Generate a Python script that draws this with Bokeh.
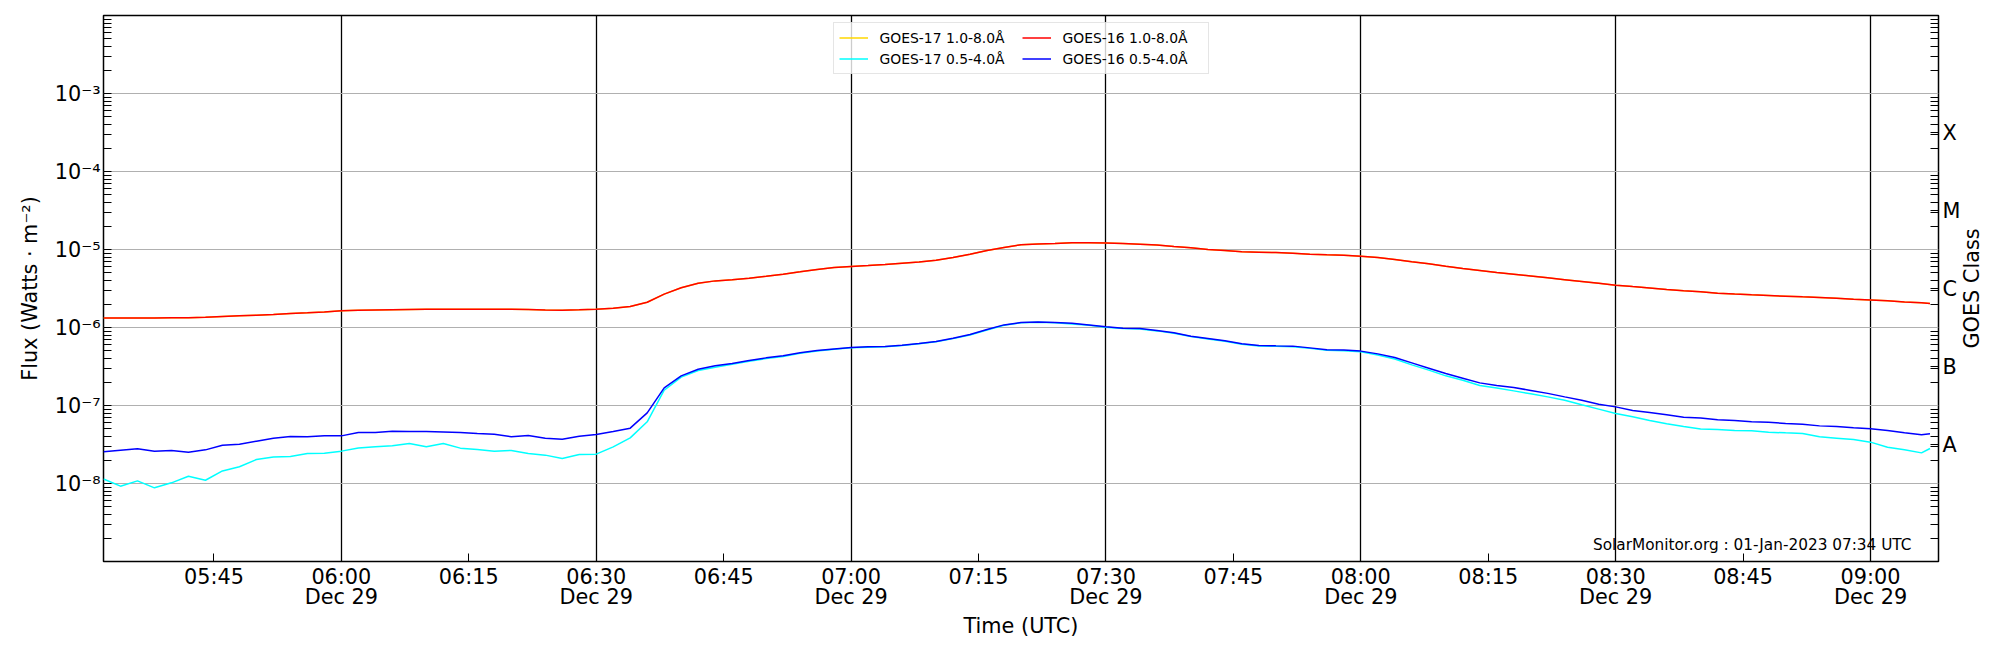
import math
import pandas as pd
from bokeh.plotting import figure
from bokeh.models import (FixedTicker, CustomJSTickFormatter, LogAxis, Legend,
                          LegendItem, Label, Range1d, ColumnDataSource)
from bokeh.embed import file_html
from bokeh.resources import INLINE

# ---------------- data ----------------
start_time = "2022-12-29 05:32"
end_time = "2022-12-29 09:08"
minutes = list(range(0, 216, 2)) + [215]   # sample times, minutes after 05:32 UTC

goes16_long = [
    1.32e-6, 1.32e-6, 1.32e-6, 1.32e-6, 1.33e-6, 1.33e-6, 1.35e-6, 1.38e-6, 1.41e-6, 1.44e-6,
    1.47e-6, 1.51e-6, 1.54e-6, 1.58e-6, 1.64e-6, 1.66e-6, 1.68e-6, 1.69e-6, 1.70e-6, 1.71e-6,
    1.72e-6, 1.72e-6, 1.72e-6, 1.71e-6, 1.71e-6, 1.70e-6, 1.68e-6, 1.67e-6, 1.69e-6, 1.72e-6,
    1.76e-6,
    1.86e-6, 2.11e-6, 2.68e-6, 3.23e-6, 3.70e-6, 3.96e-6, 4.08e-6, 4.29e-6, 4.55e-6, 4.83e-6,
    5.17e-6, 5.54e-6, 5.88e-6, 6.05e-6, 6.23e-6, 6.42e-6, 6.68e-6, 6.89e-6, 7.30e-6, 7.89e-6,
    8.71e-6, 9.70e-6, 1.06e-5, 1.15e-5, 1.18e-5, 1.19e-5, 1.22e-5, 1.22e-5,
    1.21e-5, 1.19e-5, 1.17e-5, 1.14e-5, 1.09e-5, 1.05e-5, 1.00e-5, 9.70e-6, 9.33e-6, 9.25e-6,
    9.15e-6, 8.97e-6, 8.71e-6, 8.55e-6, 8.46e-6, 8.22e-6, 7.89e-6, 7.44e-6, 6.95e-6, 6.55e-6,
    6.11e-6, 5.71e-6, 5.38e-6, 5.07e-6,
    4.83e-6, 4.57e-6, 4.33e-6, 4.10e-6, 3.89e-6, 3.69e-6, 3.49e-6, 3.35e-6, 3.22e-6, 3.08e-6,
    2.96e-6, 2.87e-6, 2.75e-6, 2.68e-6, 2.62e-6, 2.57e-6, 2.52e-6, 2.47e-6, 2.43e-6, 2.38e-6,
    2.31e-6, 2.26e-6, 2.20e-6, 2.13e-6, 2.07e-6, 2.03e-6,
]

goes17_long = [
    1.32e-6, 1.32e-6, 1.32e-6, 1.32e-6, 1.33e-6, 1.33e-6, 1.35e-6, 1.38e-6, 1.41e-6, 1.44e-6,
    1.47e-6, 1.51e-6, 1.54e-6, 1.58e-6, 1.64e-6, 1.66e-6, 1.68e-6, 1.69e-6, 1.70e-6, 1.71e-6,
    1.72e-6, 1.72e-6, 1.72e-6, 1.71e-6, 1.71e-6, 1.70e-6, 1.68e-6, 1.67e-6, 1.69e-6, 1.72e-6,
    1.76e-6,
    1.86e-6, 2.11e-6, 2.68e-6, 3.23e-6, 3.70e-6, 3.96e-6, 4.08e-6, 4.29e-6, 4.55e-6, 4.83e-6,
    5.17e-6, 5.54e-6, 5.88e-6, 6.05e-6, 6.23e-6, 6.42e-6, 6.68e-6, 6.89e-6, 7.30e-6, 7.89e-6,
    8.71e-6, 9.70e-6, 1.06e-5, 1.15e-5, 1.18e-5, 1.19e-5, 1.22e-5, 1.22e-5,
    1.21e-5, 1.19e-5, 1.17e-5, 1.14e-5, 1.09e-5, 1.05e-5, 1.00e-5, 9.70e-6, 9.33e-6, 9.25e-6,
    9.15e-6, 8.97e-6, 8.71e-6, 8.55e-6, 8.46e-6, 8.22e-6, 7.89e-6, 7.44e-6, 6.95e-6, 6.55e-6,
    6.11e-6, 5.71e-6, 5.38e-6, 5.07e-6,
    4.83e-6, 4.57e-6, 4.33e-6, 4.10e-6, 3.89e-6, 3.69e-6, 3.49e-6, 3.35e-6, 3.22e-6, 3.08e-6,
    2.96e-6, 2.87e-6, 2.75e-6, 2.68e-6, 2.62e-6, 2.57e-6, 2.52e-6, 2.47e-6, 2.43e-6, 2.38e-6,
    2.31e-6, 2.26e-6, 2.20e-6, 2.13e-6, 2.07e-6, 2.03e-6,
]

goes16_short = [
    2.55e-8, 2.67e-8, 2.78e-8, 2.60e-8, 2.65e-8, 2.52e-8, 2.70e-8, 3.10e-8, 3.19e-8, 3.49e-8,
    3.81e-8, 4.01e-8, 3.97e-8, 4.08e-8, 4.08e-8, 4.51e-8, 4.51e-8, 4.69e-8, 4.64e-8, 4.64e-8,
    4.59e-8, 4.51e-8, 4.38e-8, 4.29e-8, 3.97e-8, 4.12e-8, 3.81e-8, 3.70e-8, 4.04e-8, 4.25e-8,
    4.64e-8,
    5.12e-8, 8.05e-8, 1.68e-7, 2.40e-7, 2.92e-7, 3.23e-7, 3.45e-7, 3.78e-7, 4.08e-7, 4.33e-7,
    4.74e-7, 5.07e-7, 5.32e-7, 5.54e-7, 5.65e-7, 5.70e-7, 5.94e-7, 6.24e-7, 6.62e-7, 7.30e-7,
    8.13e-7, 9.42e-7, 1.08e-6, 1.16e-6, 1.18e-6, 1.16e-6, 1.13e-6, 1.08e-6,
    1.02e-6, 9.80e-7, 9.70e-7, 9.16e-7, 8.55e-7, 7.74e-7, 7.23e-7, 6.75e-7, 6.18e-7, 5.88e-7,
    5.82e-7, 5.77e-7, 5.48e-7, 5.18e-7, 5.13e-7, 4.98e-7, 4.59e-7, 4.12e-7, 3.52e-7, 3.01e-7,
    2.57e-7, 2.24e-7, 1.95e-7, 1.80e-7,
    1.70e-7, 1.56e-7, 1.43e-7, 1.29e-7, 1.17e-7, 1.04e-7, 9.60e-8, 8.63e-8, 8.13e-8, 7.59e-8,
    7.08e-8, 6.89e-8, 6.55e-8, 6.42e-8, 6.18e-8, 6.11e-8, 5.87e-8, 5.76e-8, 5.48e-8, 5.38e-8,
    5.18e-8, 5.02e-8, 4.78e-8, 4.46e-8, 4.21e-8, 4.34e-8,
]

goes17_short = [
    1.14e-8, 9.24e-9, 1.08e-8, 8.80e-9, 1.02e-8, 1.24e-8, 1.10e-8, 1.45e-8, 1.64e-8, 2.03e-8,
    2.18e-8, 2.22e-8, 2.43e-8, 2.45e-8, 2.60e-8, 2.86e-8, 2.95e-8, 3.04e-8, 3.26e-8, 2.95e-8,
    3.26e-8, 2.84e-8, 2.73e-8, 2.60e-8, 2.65e-8, 2.43e-8, 2.31e-8, 2.09e-8, 2.35e-8, 2.38e-8,
    2.95e-8,
    3.85e-8, 6.18e-8, 1.57e-7, 2.31e-7, 2.81e-7, 3.10e-7, 3.38e-7, 3.70e-7, 4.00e-7, 4.25e-7,
    4.66e-7, 5.00e-7, 5.25e-7, 5.50e-7, 5.60e-7, 5.65e-7, 5.88e-7, 6.18e-7, 6.55e-7, 7.20e-7,
    8.00e-7, 9.30e-7, 1.07e-6, 1.15e-6, 1.17e-6, 1.15e-6, 1.11e-6, 1.07e-6,
    1.01e-6, 9.70e-7, 9.60e-7, 9.05e-7, 8.45e-7, 7.65e-7, 7.12e-7, 6.65e-7, 6.08e-7, 5.80e-7,
    5.74e-7, 5.68e-7, 5.40e-7, 5.10e-7, 5.04e-7, 4.88e-7, 4.45e-7, 3.95e-7, 3.32e-7, 2.84e-7,
    2.40e-7, 2.11e-7, 1.80e-7, 1.68e-7,
    1.54e-7, 1.41e-7, 1.29e-7, 1.17e-7, 1.02e-7, 8.98e-8, 7.89e-8, 7.16e-8, 6.42e-8, 5.82e-8,
    5.38e-8, 4.98e-8, 4.93e-8, 4.78e-8, 4.73e-8, 4.55e-8, 4.46e-8, 4.38e-8, 3.97e-8, 3.81e-8,
    3.66e-8, 3.39e-8, 2.92e-8, 2.70e-8, 2.47e-8, 2.81e-8,
]

series_labels = ["GOES-17 1.0-8.0Å", "GOES-17 0.5-4.0Å", "GOES-16 1.0-8.0Å", "GOES-16 0.5-4.0Å"]
series_colors = ["gold", "cyan", "red", "blue"]

x_tick_times = ["05:45", "06:00", "06:15", "06:30", "06:45", "07:00", "07:15", "07:30",
                "07:45", "08:00", "08:15", "08:30", "08:45", "09:00"]
x_tick_labels = ["05:45", "06:00\nDec 29", "06:15", "06:30\nDec 29", "06:45", "07:00\nDec 29",
                 "07:15", "07:30\nDec 29", "07:45", "08:00\nDec 29", "08:15", "08:30\nDec 29",
                 "08:45", "09:00\nDec 29"]
x_line_times = ["06:00", "06:30", "07:00", "07:30", "08:00", "08:30", "09:00"]

y_ticks = [1e-8, 1e-7, 1e-6, 1e-5, 1e-4, 1e-3]
y_tick_labels = ["10⁻⁸", "10⁻⁷", "10⁻⁶", "10⁻⁵", "10⁻⁴", "10⁻³"]
y_min, y_max = 1e-9, 1e-2

goes_class_flux = [3.162e-8, 3.162e-7, 3.162e-6, 3.162e-5, 3.162e-4]
goes_class_labels = ["A", "B", "C", "M", "X"]

stamp_text = "SolarMonitor.org : 01-Jan-2023 07:34 UTC"

# ---------------- build ----------------
FONT = "DejaVu Sans"
t0 = pd.Timestamp(start_time)
times = [t0 + pd.Timedelta(minutes=m) for m in minutes]


def ms(hhmm):
    return pd.Timestamp("2022-12-29 " + hhmm).value / 1e6


x_ticks_ms = [ms(t) for t in x_tick_times]
x_lines_ms = [ms(t) for t in x_line_times]

minor_y = []
for e in range(-9, -2):
    for k in range(2, 10):
        minor_y.append(k * 10.0 ** e)

src = ColumnDataSource(dict(t=times, g17l=goes17_long, g17s=goes17_short,
                            g16l=goes16_long, g16s=goes16_short))

p = figure(width=2000, height=650, x_axis_type="datetime", y_axis_type="log",
           x_range=Range1d(pd.Timestamp(start_time), pd.Timestamp(end_time)),
           y_range=Range1d(y_min, y_max),
           output_backend="svg", toolbar_location=None,
           min_border_left=103, min_border_right=62, min_border_top=15, min_border_bottom=89)

p.background_fill_color = "white"
p.border_fill_color = "white"
p.outline_line_color = "black"
p.outline_line_width = 1.5
p.outline_line_alpha = 1.0

renderers = []
for col, color in zip(["g17l", "g17s", "g16l", "g16s"], series_colors):
    r = p.line("t", col, source=src, line_color=color, line_width=1.5)
    renderers.append(r)

nearest_js = """
let best = 0;
for (let k = 0; k < vals.length; k++) {
  if (Math.abs(Math.log(vals[k]) - Math.log(tick)) < Math.abs(Math.log(vals[best]) - Math.log(tick))) best = k;
}
return labs[best];
"""
nearest_lin_js = """
let best = 0;
for (let k = 0; k < vals.length; k++) {
  if (Math.abs(vals[k] - tick) < Math.abs(vals[best] - tick)) best = k;
}
return labs[best];
"""

# bottom axis
xa = p.xaxis[0]
xa.ticker = FixedTicker(ticks=x_ticks_ms)
xa.formatter = CustomJSTickFormatter(args=dict(vals=x_ticks_ms, labs=x_tick_labels), code=nearest_lin_js)
xa.axis_label = "Time (UTC)"

# left axis
ya = p.yaxis[0]
ya.ticker = FixedTicker(ticks=y_ticks, minor_ticks=minor_y)
ya.formatter = CustomJSTickFormatter(args=dict(vals=y_ticks, labs=y_tick_labels), code=nearest_js)
ya.axis_label = "Flux (Watts · m⁻²)"

# right axis (GOES class letters)
ra = LogAxis(ticker=FixedTicker(ticks=goes_class_flux, minor_ticks=minor_y),
             formatter=CustomJSTickFormatter(args=dict(vals=goes_class_flux, labs=goes_class_labels),
                                             code=nearest_js))
p.add_layout(ra, "right")

for ax in [xa, ya, ra]:
    ax.axis_line_color = None
    ax.major_tick_out = 0
    ax.minor_tick_out = 0
    ax.major_tick_in = 8
    ax.minor_tick_in = 8
    ax.major_tick_line_color = "black"
    ax.minor_tick_line_color = "black"
    ax.major_tick_line_width = 1
    ax.minor_tick_line_width = 1
    ax.major_label_text_font = FONT
    ax.major_label_text_font_size = "20.8px"
    ax.major_label_text_color = "black"
    ax.axis_label_text_font = FONT
    ax.axis_label_text_font_size = "20.8px"
    ax.axis_label_text_font_style = "normal"
    ax.axis_label_text_color = "black"

xa.minor_tick_in = 0
xa.major_label_text_line_height = 0.85
xa.major_label_standoff = 3
xa.axis_label_standoff = 2
ya.major_label_standoff = 3
ya.axis_label_standoff = 10
ra.major_label_standoff = 4

# right-hand title "GOES Class", reading bottom-to-top, in the right side panel
goes_title = Label(x=8, y=273, x_units="screen", y_units="screen", text="GOES Class",
                   angle=math.pi / 2, text_align="center", text_baseline="middle",
                   text_font=FONT, text_font_size="20.8px", text_color="black")
p.add_layout(goes_title, "right")

# grids
p.xgrid.ticker = FixedTicker(ticks=x_lines_ms)
p.xgrid.grid_line_color = "black"
p.xgrid.grid_line_width = 1.3
p.ygrid.ticker = FixedTicker(ticks=y_ticks)
p.ygrid.grid_line_color = "#b0b0b0"
p.ygrid.grid_line_width = 1

# legend
legend = Legend(items=[LegendItem(label=l, renderers=[r]) for l, r in zip(series_labels, renderers)],
                location="top_center", ncols=2)
legend.label_text_font = FONT
legend.label_text_font_size = "13.9px"
legend.label_text_color = "black"
legend.border_line_color = "#cccccc"
legend.border_line_width = 1
legend.background_fill_alpha = 0.8
legend.padding = 5
legend.margin = 7
legend.spacing = 2
legend.glyph_width = 29
legend.glyph_height = 19
legend.label_height = 19
legend.label_width = 140
legend.label_standoff = 12
p.add_layout(legend)

stamp = Label(x=1808, y=17, x_units="screen", y_units="screen", text=stamp_text,
              text_align="right", text_baseline="middle", text_font=FONT,
              text_font_size="15.3px", text_color="black")
p.add_layout(stamp)

open("out.html", "w").write(file_html(p, INLINE))
